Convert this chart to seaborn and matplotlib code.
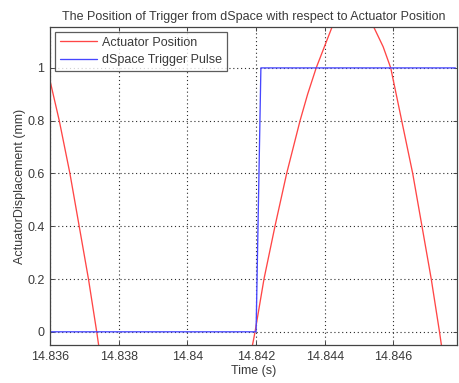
import matplotlib
matplotlib.use("Agg")
import matplotlib.pyplot as plt
import seaborn as sns
import pandas as pd

# Actuator position samples (time in s, displacement in mm)
actuator_time = [14.83600, 14.83627, 14.83658, 14.83685, 14.83712, 14.83736, 14.83742, 14.83760,
                 14.83850, 14.83970, 14.84090, 14.84170, 14.84189, 14.84197, 14.84223, 14.84255,
                 14.84289, 14.84328, 14.84350, 14.84375, 14.84420, 14.84450, 14.84482, 14.84515,
                 14.84544, 14.84570, 14.84592, 14.84624, 14.84656, 14.84683, 14.84710, 14.84734,
                 14.84740, 14.84760]
actuator_pos = [0.952, 0.80, 0.60, 0.40, 0.20, 0.00, -0.054, -0.12,
                -0.70, -1.05, -0.70, -0.12, -0.054, 0.00, 0.20, 0.40,
                0.60, 0.80, 0.90, 1.00, 1.151, 1.223, 1.25, 1.221,
                1.151, 1.08, 1.00, 0.80, 0.60, 0.40, 0.20, 0.00,
                -0.054, -0.12]

# dSpace trigger pulse
trigger_time = [14.83600, 14.84200, 14.84214, 14.84780]
trigger_val = [0, 0, 1, 1]

x_ticks = [14.836, 14.838, 14.840, 14.842, 14.844, 14.846]
x_tick_labels = ["14.836", "14.838", "14.84", "14.842", "14.844", "14.846"]
y_ticks = [0, 0.2, 0.4, 0.6, 0.8, 1.0]
y_tick_labels = ["0", "0.2", "0.4", "0.6", "0.8", "1"]

sns.set_theme(style="white")
plt.rcParams["font.family"] = ["Liberation Sans", "DejaVu Sans"]

TXT = "#3a3a3a"
FS = 9

fig = plt.figure(figsize=(4.6, 3.83), dpi=100)
ax = fig.add_axes([0.1087, 0.0992, 0.8848, 0.8303])

act = pd.DataFrame({"t": actuator_time, "pos": actuator_pos})
trg = pd.DataFrame({"t": trigger_time, "val": trigger_val})

sns.lineplot(data=act, x="t", y="pos", ax=ax, color="#ff4646", linewidth=0.95,
             label="Actuator Position", sort=False, estimator=None)
sns.lineplot(data=trg, x="t", y="val", ax=ax, color="#4646ff", linewidth=0.95,
             label="dSpace Trigger Pulse", sort=False, estimator=None)

ax.set_xlim(14.836, 14.84785)
ax.set_ylim(-0.05, 1.155)
ax.set_xticks(x_ticks)
ax.set_xticklabels(x_tick_labels)
ax.set_yticks(y_ticks)
ax.set_yticklabels(y_tick_labels)

ax.grid(True, color="#2a2a2a", linestyle=(0, (1, 2.5)), linewidth=0.8)
ax.set_axisbelow(True)
for s in ax.spines.values():
    s.set_color("#444444")
    s.set_linewidth(0.9)
ax.tick_params(direction="in", length=3, width=0.7, colors="#444444",
               labelcolor=TXT, labelsize=FS, top=True, right=True,
               bottom=True, left=True, pad=4)

ax.set_title("The Position of Trigger from dSpace with respect to Actuator Position",
             fontsize=FS, color=TXT, pad=5)
ax.set_xlabel("Time (s)", fontsize=FS, color=TXT, labelpad=2)
ax.set_ylabel("ActuatorDisplacement (mm)", fontsize=FS, color=TXT, labelpad=1)

leg = ax.legend(loc="upper left", bbox_to_anchor=(0.012, 0.985), borderaxespad=0,
                fontsize=FS, frameon=True, fancybox=False, handlelength=3.0,
                labelspacing=0.42, borderpad=0.4, handletextpad=0.35)
leg.get_frame().set_edgecolor("#333333")
leg.get_frame().set_linewidth(0.9)
for txt in leg.get_texts():
    txt.set_color(TXT)

fig.savefig("out.png", dpi=100)
